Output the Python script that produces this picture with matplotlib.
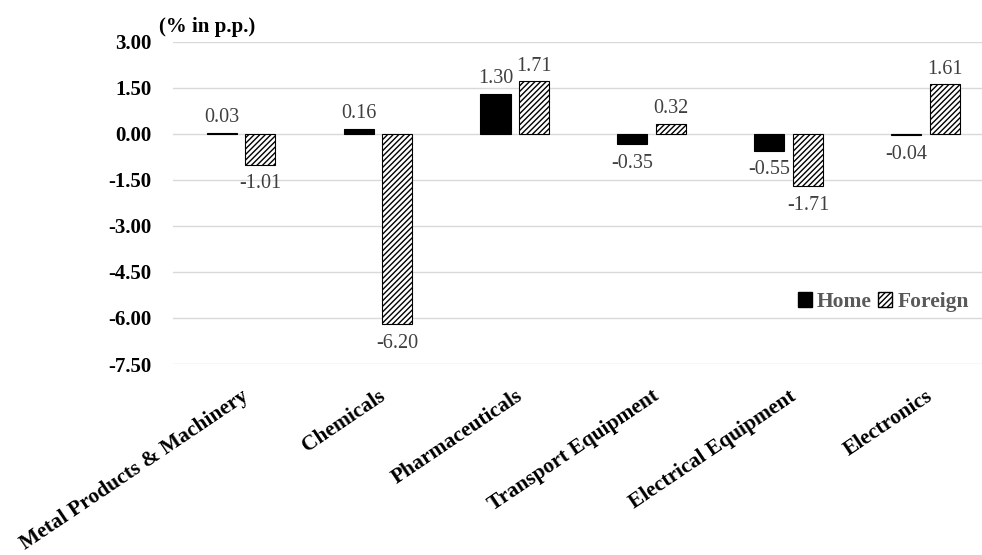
import numpy as np
import matplotlib
matplotlib.use("Agg")
import matplotlib.pyplot as plt
from matplotlib.patches import Patch

plt.rcParams["font.family"] = ["Liberation Serif", "DejaVu Serif"]
plt.rcParams["hatch.linewidth"] = 1.0

sectors = ["Metal Products & Machinery", "Chemicals", "Pharmaceuticals",
           "Transport Equipment", "Electrical Equipment", "Electronics"]
home = [0.03, 0.16, 1.30, -0.35, -0.55, -0.04]
foreign = [-1.01, -6.20, 1.71, 0.32, -1.71, 1.61]
yticks = [3.0, 1.5, 0.0, -1.5, -3.0, -4.5, -6.0, -7.5]

fig = plt.figure(figsize=(9.82, 5.55), dpi=100)
ax = fig.add_axes([172.5 / 982, 191 / 555, 821.5 / 982, 322.5 / 555])

x = np.arange(len(sectors))
w = 0.22
off = 0.141

b1 = ax.bar(x - off, home, w, color="black", edgecolor="black", linewidth=0.8, zorder=3)
b2 = ax.bar(x + off, foreign, w, color="white", edgecolor="black", linewidth=0.8,
            hatch="//////", zorder=3)

def label_bars(bars, vals):
    # values above positive bars, below negative ones
    for rect, v in zip(bars, vals):
        cx = rect.get_x() + rect.get_width() / 2
        if v >= 0:
            ax.annotate(f"{v:.2f}", (cx, v), xytext=(0, 4), textcoords="offset points",
                        ha="center", va="bottom", fontsize=14.5, color="#404040")
        else:
            ax.annotate(f"{v:.2f}", (cx, v), xytext=(0, -7), textcoords="offset points",
                        ha="center", va="top", fontsize=14.5, color="#404040")

label_bars(b1, home)
label_bars(b2, foreign)

ax.set_ylim(-7.5, 3.0)
ax.set_xlim(-0.5, len(sectors) - 0.5)
ax.set_yticks(yticks)
ax.set_yticklabels([f"{t:.2f}" for t in yticks], fontsize=15, fontweight="bold")
ax.tick_params(axis="y", length=0, pad=15)
ax.set_xticks(x)
ax.set_xticklabels(sectors, rotation=34, ha="right", rotation_mode="anchor",
                   fontsize=15.5, fontweight="bold")
ax.tick_params(axis="x", length=0, pad=16)

ax.grid(axis="y", color="#d9d9d9", linewidth=1.0, zorder=0)
for s in ax.spines.values():
    s.set_visible(False)

fig.text(159 / 982, 1 - 27 / 555, "(% in p.p.)", fontsize=15, fontweight="bold",
         va="center", ha="left")

handles = [Patch(facecolor="black", edgecolor="black"),
           Patch(facecolor="white", edgecolor="black", hatch="//////")]
leg = fig.legend(handles, ["Home", "Foreign"], loc="center right",
                 bbox_to_anchor=(980 / 982, 1 - 302 / 555),
                 ncol=2, frameon=False, handlelength=0.65, handleheight=0.65,
                 handletextpad=0.25, columnspacing=0.3, borderpad=0,
                 prop={"size": 15.5, "weight": "bold"})
for t in leg.get_texts():
    t.set_color("#595959")

fig.savefig("out.png", dpi=100)
